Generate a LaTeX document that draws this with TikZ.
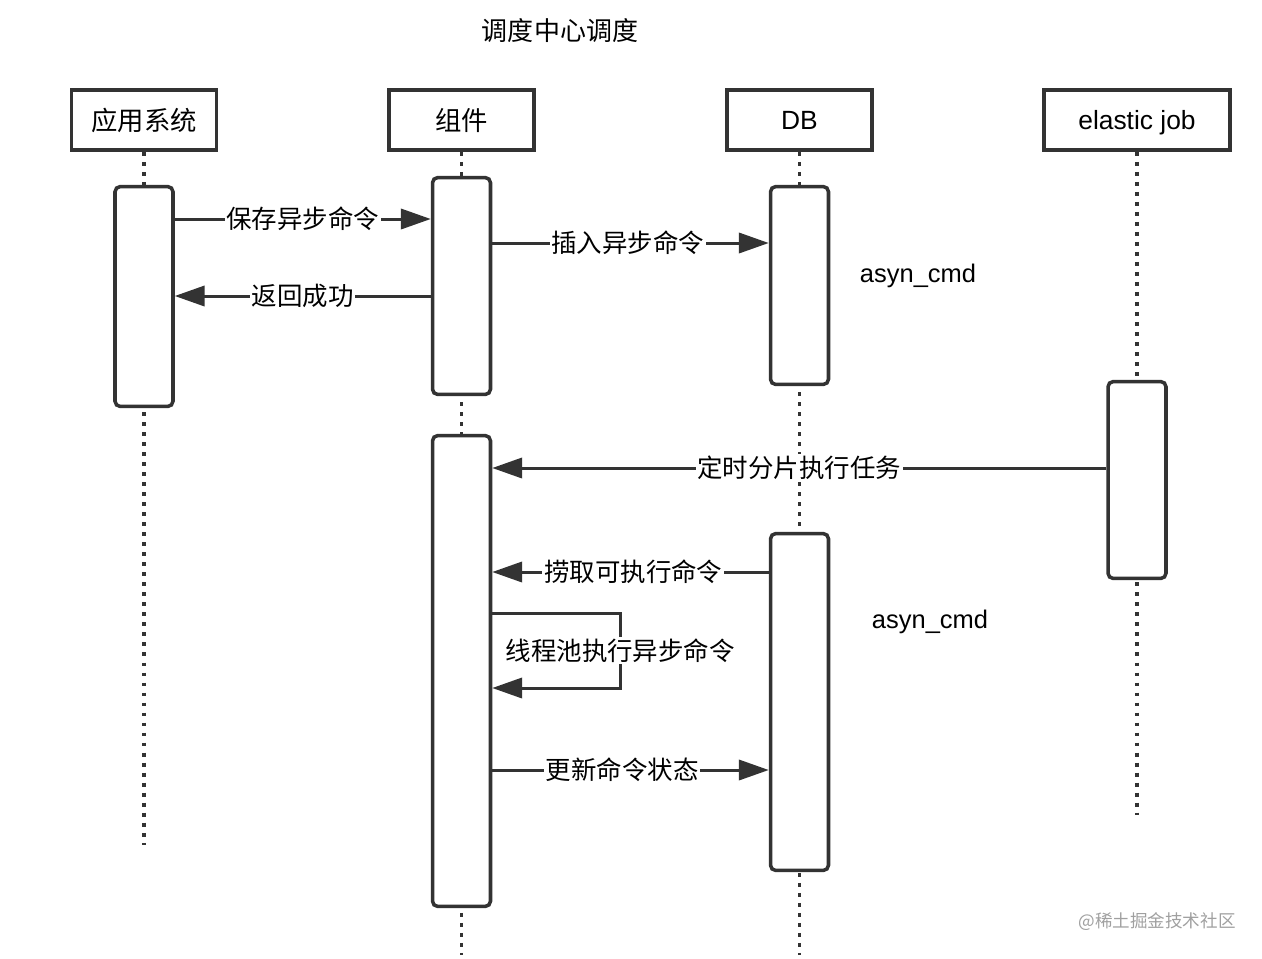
\documentclass[tikz,border=0pt]{standalone}
\usepackage{fontspec}
\setmainfont{Noto Sans CJK SC}
\newfontfamily\latinfont{Liberation Sans}
\usetikzlibrary{%
        arrows.meta,
        positioning
    }
\definecolor{ink}{RGB}{51, 51, 51}
\definecolor{mark}{RGB}{160, 160, 160}
\pgfdeclarelayer{background}
\pgfsetlayers{background,main}
\tikzset{%
    head/.style={draw=ink, line width=2pt, fill=white, minimum width=2.9cm,
        minimum height=1.2cm, font=\fontsize{15}{17}\selectfont},
    act/.style={draw=ink, line width=2pt, fill=white, rounded corners=3pt,
        minimum width=1.16cm},
    life/.style={ink, line width=2.2pt, dash pattern=on 2.2pt off 3.5pt},
    msg/.style={ink, line width=1.7pt, -{Triangle[length=17pt, width=11.5pt]}},
    lbl/.style={fill=white, inner sep=1pt, text=black,
        font=\fontsize{14.5}{16}\selectfont},
    tbl/.style={font=\latinfont\fontsize{14.5}{16}\selectfont}
}

\begin{document}
\begin{tikzpicture}[x=0.02cm, y=-0.02cm]

    \useasboundingbox (0, 0) rectangle (1262, 958);

    \node[font=\fontsize{14.8}{17}\selectfont] (title) at (560, 31) {调度中心调度};

    % Participants
    \node[head] (app) at (144, 120) {应用系统};
    \node[head] (comp) at (461.5, 120) {组件};
    \node[head, font=\latinfont\fontsize{15}{17}\selectfont] (db) at (799.5, 120) {DB};
    \node[head, minimum width=3.72cm, text depth=0pt,
        font=\latinfont\fontsize{15}{17}\selectfont]
        (job) at (1137, 120) {elastic job};

    % Activations
    \node[act, minimum height=4.4cm] (app1) at (144, 296.5) {};
    \node[act, minimum height=4.34cm] (comp1) at (461.5, 286) {};
    \node[act, minimum height=9.42cm] (comp2) at (461.5, 671) {};
    \node[act, minimum height=3.96cm] (db1) at (799.5, 285.5) {};
    \node[act, minimum height=6.74cm] (db2) at (799.5, 702) {};
    \node[act, minimum height=3.94cm] (job1) at (1137, 480) {};

    % Lifeline ends
    \coordinate (append) at (144, 845);
    \coordinate (compend) at (461.5, 955);
    \coordinate (dbend) at (799.5, 955);
    \coordinate (jobend) at (1137, 815);

    \begin{pgfonlayer}{background}
        \draw[life] (app.south) -- (append);
        \draw[life] (comp.south) -- (compend);
        \draw[life] (db.south) -- (dbend);
        \draw[life] (job.south) -- (jobend);
    \end{pgfonlayer}

    % Message heights
    \coordinate (m1) at (0, 219);
    \coordinate (m2) at (0, 243);
    \coordinate (m3) at (0, 296);
    \coordinate (m4) at (0, 468);
    \coordinate (m5) at (0, 572);
    \coordinate (m6) at (0, 613);
    \coordinate (m7) at (0, 688);
    \coordinate (m8) at (0, 770);

    % Saving the command
    \draw[msg] (app1.east |- m1) -- (comp1.west |- m1)
        node[lbl, pos=0.5] {保存异步命令};
    \draw[msg] (comp1.east |- m2) -- (db1.west |- m2)
        node[lbl, pos=0.49] {插入异步命令};
    \draw[msg] (comp1.west |- m3) -- (app1.east |- m3)
        node[lbl, pos=0.5] {返回成功};

    \node[tbl] (tab1) at (918, 276) {asyn\_cmd};

    % Running the commands
    \draw[msg] (job1.west |- m4) -- (comp2.east |- m4)
        node[lbl, pos=0.5] {定时分片执行任务};
    \draw[msg] (db2.west |- m5) -- (comp2.east |- m5)
        node[lbl, pos=0.49] {捞取可执行命令};
    \draw[msg] (comp2.east |- m6) -- ++(128, 0) -- ++(0, 75)
        node[lbl, midway] {线程池执行异步命令}
        -- (comp2.east |- m7);
    \draw[msg] (comp2.east |- m8) -- (db2.west |- m8)
        node[lbl, pos=0.47] {更新命令状态};

    \node[tbl] (tab2) at (930, 622) {asyn\_cmd};

    \node[text=mark, font=\fontsize{10}{12}\selectfont] (wm) at (1157, 922)
        {@稀土掘金技术社区};

\end{tikzpicture}
\end{document}
